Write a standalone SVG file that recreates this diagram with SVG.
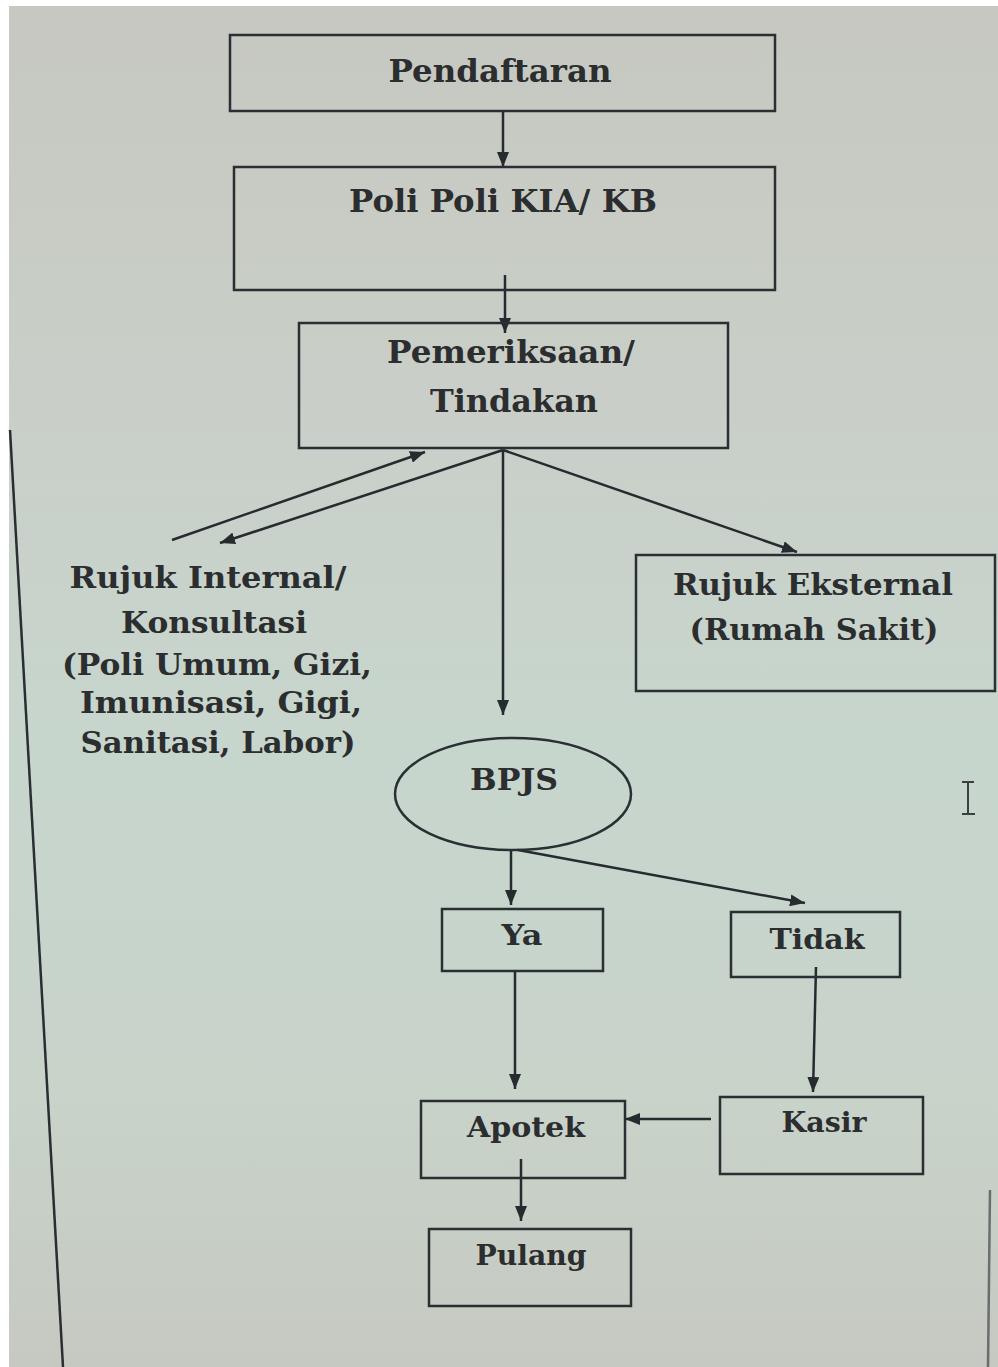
<svg xmlns="http://www.w3.org/2000/svg" width="998" height="1367" viewBox="0 0 998 1367">
  <defs>
    <linearGradient id="bg" x1="0" y1="0" x2="0" y2="1">
      <stop offset="0" stop-color="#c6c8c1"/>
      <stop offset="0.3" stop-color="#c9cfc8"/>
      <stop offset="0.55" stop-color="#c7d6cd"/>
      <stop offset="0.8" stop-color="#c8d3ca"/>
      <stop offset="1" stop-color="#c6c9c1"/>
    </linearGradient>
    <marker id="arr" viewBox="0 0 10 8" refX="10" refY="4" markerWidth="6" markerHeight="4.8" orient="auto" markerUnits="strokeWidth">
      <path d="M0,0 L10,4 L0,8 z" fill="#262b2f"/>
    </marker>
    <style>
      .box { fill: none; stroke: #2a2f33; stroke-width: 2.5; }
      .lbl { font-family: "DejaVu Serif", "Liberation Serif", serif; font-weight: bold; fill: #2b2d2f; text-anchor: middle; }
      .big { font-size: 31px; }
      .mid { font-size: 30px; }
      .sm { font-size: 28px; }
      .edge { fill: none; stroke: #262b2f; stroke-width: 2.5; marker-end: url(#arr); }
      .frame { fill: none; stroke: #2a2e33; stroke-width: 2.5; }
    </style>
  </defs>

  <rect x="0" y="0" width="998" height="1367" fill="url(#bg)"/>
  <rect x="0" y="0" width="9" height="1367" fill="#ffffff"/>
  <rect x="0" y="0" width="998" height="6" fill="#ffffff"/>

  <g id="frame">
    <line class="frame" x1="10" y1="430" x2="63" y2="1367"/>
    <line class="frame" x1="990" y1="1190" x2="988" y2="1367" stroke-opacity="0.6"/>
  </g>

  <g id="cursor" stroke="#3a3f42" stroke-width="2" fill="none">
    <line x1="968" y1="782" x2="968" y2="814"/>
    <line x1="962" y1="782" x2="974" y2="782"/>
    <line x1="962" y1="814" x2="975" y2="814"/>
  </g>

  <g id="connectors">
    <line class="edge" x1="503" y1="112" x2="503" y2="167"/>
    <line class="edge" x1="505" y1="275" x2="505" y2="333"/>
    <line class="edge" x1="172" y1="540" x2="425" y2="452"/>
    <line class="edge" x1="503" y1="450" x2="220" y2="543"/>
    <line class="edge" x1="503" y1="450" x2="503" y2="715"/>
    <line class="edge" x1="503" y1="450" x2="797" y2="552"/>
    <line class="edge" x1="511" y1="850" x2="511" y2="905"/>
    <line class="edge" x1="518" y1="850" x2="805" y2="903"/>
    <line class="edge" x1="515" y1="971" x2="515" y2="1089"/>
    <line class="edge" x1="816" y1="967" x2="813" y2="1092"/>
    <line class="edge" x1="711" y1="1119" x2="625" y2="1119"/>
    <line class="edge" x1="521" y1="1159" x2="521" y2="1221"/>
  </g>

  <g id="pendaftaran">
    <rect class="box" x="230" y="35" width="545" height="76"/>
    <text class="lbl big" x="500" y="82" textLength="223" lengthAdjust="spacingAndGlyphs">Pendaftaran</text>
  </g>

  <g id="poli">
    <rect class="box" x="234" y="167" width="541" height="123"/>
    <text class="lbl big" x="503" y="212" textLength="308" lengthAdjust="spacingAndGlyphs">Poli Poli KIA/ KB</text>
  </g>

  <g id="pemeriksaan">
    <rect class="box" x="299" y="323" width="429" height="125"/>
    <text class="lbl big" x="511" y="363" textLength="248" lengthAdjust="spacingAndGlyphs">Pemeriksaan/</text>
    <text class="lbl big" x="514" y="412" textLength="168" lengthAdjust="spacingAndGlyphs">Tindakan</text>
  </g>

  <g id="rujuk-internal">
    <text class="lbl mid" x="208" y="588" textLength="277" lengthAdjust="spacingAndGlyphs">Rujuk Internal/</text>
    <text class="lbl mid" x="214" y="633" textLength="186" lengthAdjust="spacingAndGlyphs">Konsultasi</text>
    <text class="lbl mid" x="217" y="675" textLength="310" lengthAdjust="spacingAndGlyphs">(Poli Umum, Gizi,</text>
    <text class="lbl mid" x="221" y="713" textLength="282" lengthAdjust="spacingAndGlyphs">Imunisasi, Gigi,</text>
    <text class="lbl mid" x="218" y="753" textLength="275" lengthAdjust="spacingAndGlyphs">Sanitasi, Labor)</text>
  </g>

  <g id="rujuk-eksternal">
    <rect class="box" x="636" y="555" width="359" height="136"/>
    <text class="lbl mid" x="813" y="595" textLength="280" lengthAdjust="spacingAndGlyphs">Rujuk Eksternal</text>
    <text class="lbl mid" x="814" y="640" textLength="249" lengthAdjust="spacingAndGlyphs">(Rumah Sakit)</text>
  </g>

  <g id="bpjs">
    <ellipse class="box" cx="513" cy="794" rx="118" ry="56"/>
    <text class="lbl mid" x="514" y="790" textLength="88" lengthAdjust="spacingAndGlyphs">BPJS</text>
  </g>

  <g id="ya">
    <rect class="box" x="442" y="909" width="161" height="62"/>
    <text class="lbl sm" x="522" y="945" textLength="41" lengthAdjust="spacingAndGlyphs">Ya</text>
  </g>

  <g id="tidak">
    <rect class="box" x="731" y="912" width="169" height="65"/>
    <text class="lbl sm" x="817" y="949" textLength="95" lengthAdjust="spacingAndGlyphs">Tidak</text>
  </g>

  <g id="apotek">
    <rect class="box" x="421" y="1101" width="204" height="77"/>
    <text class="lbl sm" x="526" y="1137" textLength="118" lengthAdjust="spacingAndGlyphs">Apotek</text>
  </g>

  <g id="kasir">
    <rect class="box" x="720" y="1097" width="203" height="77"/>
    <text class="lbl sm" x="824" y="1132" textLength="85" lengthAdjust="spacingAndGlyphs">Kasir</text>
  </g>

  <g id="pulang">
    <rect class="box" x="429" y="1229" width="202" height="77"/>
    <text class="lbl sm" x="531" y="1265" textLength="111" lengthAdjust="spacingAndGlyphs">Pulang</text>
  </g>
</svg>
